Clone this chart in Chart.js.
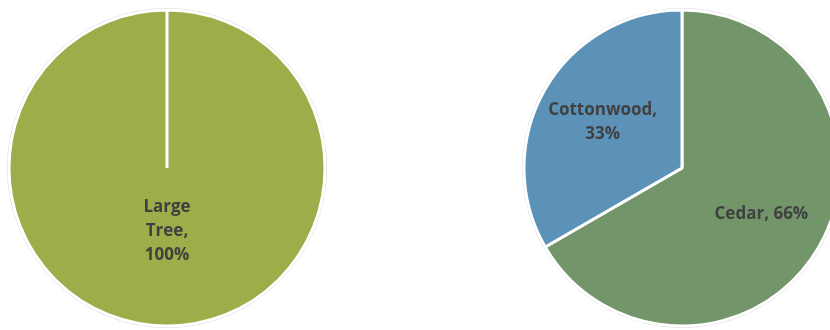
<!DOCTYPE html>
<html>
<head>
<meta charset="utf-8">
<script src="https://cdn.jsdelivr.net/npm/chart.js@4.4.0/dist/chart.umd.min.js"></script>
<style>
  html, body { margin: 0; padding: 0; background: #fff; overflow: hidden; width: 830px; height: 330px; }
  .box { position: absolute; top: 0; width: 334px; height: 336px; }
</style>
</head>
<body>
<div class="box" style="left:0px"><canvas id="pieA"></canvas></div>
<div class="box" style="left:515px"><canvas id="pieB"></canvas></div>
<script>
// left pie
const leftCats = ['Large Tree'];
const leftVals = [100];
const leftColors = ['#9DAD4A'];

// right pie
const rightCats = ['Cedar', 'Cottonwood'];
const rightVals = [66, 33];
const rightColors = ['#73956A', '#5C92B8'];

// draws "name, value%" inside each slice, wrapped like the spreadsheet does
const sliceLabels = {
  id: 'sliceLabels',
  afterDatasetsDraw(chart, args, opts) {
    const ctx = chart.ctx;
    const meta = chart.getDatasetMeta(0);
    const ds = chart.data.datasets[0];
    const total = ds.data.reduce((a, b) => a + b, 0);
    ctx.save();
    ctx.font = 'bold 17px "Open Sans"';
    ctx.fillStyle = '#404040';
    ctx.textAlign = 'center';
    ctx.textBaseline = 'middle';
    meta.data.forEach((arc, i) => {
      const p = arc.getProps(['x', 'y', 'startAngle', 'endAngle', 'outerRadius'], true);
      const mid = (p.startAngle + p.endAngle) / 2;
      const r = p.outerRadius * opts.dist;
      const cx = p.x + Math.cos(mid) * r;
      const cy = p.y + Math.sin(mid) * r;
      const pct = Math.round(ds.data[i] / total * 100 * (total / 100 === 1 ? 1 : total / 100));
      const words = (chart.data.labels[i] + ', ' + ds.data[i] + '%').split(' ');
      const lines = [];
      let cur = '';
      words.forEach(w => {
        const test = cur ? cur + ' ' + w : w;
        if (cur && ctx.measureText(test).width > opts.wrap) { lines.push(cur); cur = w; }
        else cur = test;
      });
      lines.push(cur);
      const lh = 24;
      lines.forEach((ln, k) => {
        ctx.fillText(ln, cx, cy + (k - (lines.length - 1) / 2) * lh);
      });
    });
    ctx.restore();
  }
};

// faint outline around the pie
const rim = {
  id: 'rim',
  beforeDatasetsDraw(chart) {
    const arc = chart.getDatasetMeta(0).data[0];
    if (!arc) return;
    const ctx = chart.ctx;
    ctx.save();
    ctx.beginPath();
    ctx.arc(arc.x, arc.y, arc.outerRadius + 1.5, 0, Math.PI * 2);
    ctx.strokeStyle = '#d9d9d9';
    ctx.lineWidth = 1;
    ctx.stroke();
    ctx.restore();
  }
};

function makePie(id, cats, vals, colors, dist, wrap) {
  return new Chart(document.getElementById(id), {
    type: 'pie',
    data: {
      labels: cats,
      datasets: [{
        data: vals,
        backgroundColor: colors,
        borderColor: '#ffffff',
        borderWidth: 3,
        radius: 158,
        hoverOffset: 0
      }]
    },
    plugins: [rim, sliceLabels],
    options: {
      responsive: true,
      maintainAspectRatio: false,
      animation: false,
      events: [],
      layout: { padding: 0 },
      plugins: {
        legend: { display: false },
        tooltip: { enabled: false },
        sliceLabels: { dist: dist, wrap: wrap }
      }
    }
  });
}

makePie('pieA', leftCats, leftVals, leftColors, 0.4, 60);
makePie('pieB', rightCats, rightVals, rightColors, 0.58, 130);
</script>
</body>
</html>
